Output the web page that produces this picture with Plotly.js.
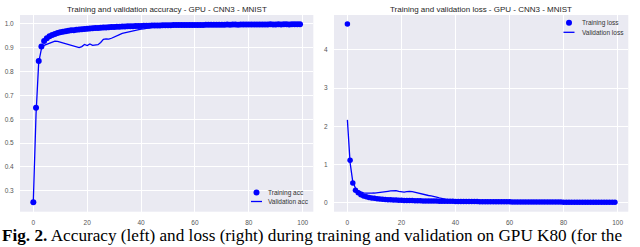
<!DOCTYPE html>
<html>
<head>
<meta charset="utf-8">
<script src="https://cdn.plot.ly/plotly-3.0.1.min.js"></script>
<style>html,body{margin:0;padding:0;background:#fff;}#chart{width:640px;height:247px;}</style>
</head>
<body>
<div id="chart"></div>
<script>
const epochs = [];
for (let i = 0; i < 100; i++) epochs.push(i);

const trainAcc = [
0.252,0.648,0.845,0.905,0.928,0.940,0.948,0.954,0.958,0.962,
0.965,0.967,0.969,0.971,0.973,0.974,0.976,0.977,0.978,0.979,
0.980,0.981,0.982,0.983,0.983,0.984,0.985,0.985,0.986,0.987,
0.987,0.988,0.988,0.989,0.989,0.990,0.990,0.990,0.991,0.991,
0.991,0.992,0.992,0.992,0.993,0.993,0.993,0.993,0.994,0.994,
0.994,0.994,0.995,0.995,0.995,0.995,0.995,0.996,0.996,0.996,
0.996,0.996,0.996,0.996,0.997,0.997,0.997,0.997,0.997,0.997,
0.997,0.997,0.998,0.997,0.998,0.998,0.997,0.998,0.998,0.998,
0.998,0.998,0.998,0.998,0.998,0.998,0.998,0.998,0.999,0.998,
0.998,0.999,0.998,0.999,0.999,0.998,0.999,0.999,0.999,0.999];

const valAcc = [
0.260,0.620,0.840,0.895,0.910,0.915,0.920,0.925,0.928,0.927,
0.924,0.920,0.917,0.913,0.910,0.906,0.903,0.901,0.905,0.914,
0.909,0.916,0.910,0.912,0.913,0.922,0.935,0.937,0.936,0.940,
0.944,0.948,0.955,0.960,0.963,0.966,0.969,0.972,0.975,0.976,
0.978,0.979,0.981,0.982,0.986,0.992,0.994,0.995,0.994,0.995,
0.996,0.995,0.996,0.996,0.997,0.996,0.997,0.996,0.997,0.997,
0.996,0.997,0.997,0.998,0.997,0.997,0.998,0.997,0.998,0.997,
0.998,0.998,0.997,0.998,0.998,0.998,0.997,0.998,0.998,0.998,
0.998,0.997,0.998,0.998,0.998,0.998,0.998,0.997,0.998,0.998,
0.998,0.998,0.998,0.998,0.997,0.998,0.998,0.998,0.998,0.998];

const trainLoss = [
4.680,1.110,0.520,0.330,0.260,0.210,0.180,0.155,0.140,0.125,
0.115,0.105,0.098,0.092,0.086,0.081,0.077,0.073,0.070,0.067,
0.064,0.062,0.060,0.058,0.056,0.054,0.052,0.050,0.049,0.047,
0.046,0.045,0.044,0.043,0.042,0.041,0.040,0.039,0.038,0.037,
0.036,0.035,0.034,0.033,0.033,0.032,0.031,0.031,0.030,0.029,
0.029,0.028,0.028,0.027,0.027,0.026,0.026,0.025,0.025,0.024,
0.024,0.023,0.023,0.022,0.022,0.022,0.021,0.021,0.020,0.020,
0.020,0.019,0.019,0.019,0.018,0.018,0.018,0.017,0.017,0.017,
0.016,0.016,0.016,0.016,0.015,0.015,0.015,0.015,0.014,0.014,
0.014,0.014,0.013,0.013,0.013,0.013,0.012,0.012,0.012,0.012];

const valLoss = [
2.170,1.050,0.550,0.380,0.310,0.280,0.260,0.250,0.245,0.250,
0.255,0.260,0.270,0.280,0.290,0.300,0.310,0.315,0.320,0.300,
0.290,0.280,0.290,0.300,0.290,0.270,0.250,0.240,0.220,0.200,
0.190,0.180,0.170,0.150,0.130,0.110,0.095,0.085,0.075,0.065,
0.058,0.055,0.052,0.050,0.048,0.046,0.045,0.044,0.043,0.042,
0.041,0.040,0.039,0.038,0.037,0.036,0.036,0.035,0.034,0.034,
0.033,0.033,0.032,0.032,0.031,0.031,0.030,0.030,0.030,0.029,
0.029,0.029,0.028,0.028,0.028,0.027,0.027,0.027,0.026,0.026,
0.026,0.026,0.025,0.025,0.025,0.025,0.024,0.024,0.024,0.024,
0.023,0.023,0.023,0.023,0.023,0.022,0.022,0.022,0.022,0.022];

const xTicks = [0, 20, 40, 60, 80, 100];
const accTicks = [0.3, 0.4, 0.5, 0.6, 0.7, 0.8, 0.9, 1.0];
const accTickText = ['0.3','0.4','0.5','0.6','0.7','0.8','0.9','1.0'];
const lossTicks = [0, 1, 2, 3, 4];

const seriesNames = ['Training acc', 'Validation acc', 'Training loss', 'Validation loss'];
const titleLeft = 'Training and validation accuracy - GPU - CNN3 - MNIST';
const titleRight = 'Training and validation loss - GPU - CNN3 - MNIST';
const caption = '<b>Fig. 2.</b> Accuracy (left) and loss (right) during training and validation on GPU K80 (for the';

const BLUE = '#0000ff';
const FONT = 'Liberation Sans, Arial, sans-serif';
const W = 640, H = 247;
const px = v => v / W;
const py = v => 1 - v / H;

const traces = [
  {x: epochs, y: trainAcc, type: 'scatter', mode: 'markers', name: seriesNames[0],
   marker: {color: BLUE, size: 6}, xaxis: 'x', yaxis: 'y'},
  {x: epochs, y: valAcc, type: 'scatter', mode: 'lines', name: seriesNames[1],
   line: {color: BLUE, width: 1.3}, xaxis: 'x', yaxis: 'y'},
  {x: epochs, y: trainLoss, type: 'scatter', mode: 'markers', name: seriesNames[2],
   marker: {color: BLUE, size: 5.5}, xaxis: 'x2', yaxis: 'y2'},
  {x: epochs, y: valLoss, type: 'scatter', mode: 'lines', name: seriesNames[3],
   line: {color: BLUE, width: 1.3}, xaxis: 'x2', yaxis: 'y2'}
];

const axisCommon = {
  showline: false, zeroline: false, gridcolor: '#ffffff', gridwidth: 1,
  ticks: 'outside', ticklen: 4, tickcolor: 'rgba(0,0,0,0)',
  tickfont: {family: FONT, size: 6.5, color: '#555555'}
};

// hand-built legends (matplotlib style: small glyphs, tight rows)
function legendBlock(glyphX, textX, row1Y, row2Y, names) {
  const shapes = [
    {type: 'circle', xref: 'paper', yref: 'paper', xsizemode: 'pixel', ysizemode: 'pixel',
     xanchor: px(glyphX), yanchor: py(row1Y), x0: -3, x1: 3, y0: -3, y1: 3,
     fillcolor: BLUE, line: {width: 0}},
    {type: 'line', xref: 'paper', yref: 'paper',
     x0: px(glyphX - 5.5), x1: px(glyphX + 5.5), y0: py(row2Y), y1: py(row2Y),
     line: {color: BLUE, width: 1.3}}
  ];
  const anns = names.map((n, i) => ({
    text: n, xref: 'paper', yref: 'paper', x: px(textX), y: py(i === 0 ? row1Y : row2Y),
    xanchor: 'left', yanchor: 'middle', showarrow: false,
    font: {family: FONT, size: 6.5, color: '#333333'}
  }));
  return {shapes, anns};
}
const legL = legendBlock(256.5, 266, 192.5, 201.5, seriesNames.slice(0, 2));
const legR = legendBlock(569, 579.5, 22.7, 32.3, seriesNames.slice(2, 4));

const layout = {
  width: W, height: H,
  margin: {l: 0, r: 0, t: 0, b: 0},
  paper_bgcolor: '#ffffff', plot_bgcolor: '#EAEAF2',
  showlegend: false,
  xaxis: Object.assign({}, axisCommon, {domain: [0.03125, 0.4896], range: [-4.95, 103.95], tickvals: xTicks, anchor: 'y'}),
  yaxis: Object.assign({}, axisCommon, {domain: [0.1429, 0.9393], range: [0.2125, 1.0375], tickvals: accTicks, ticktext: accTickText, anchor: 'x'}),
  xaxis2: Object.assign({}, axisCommon, {domain: [0.5219, 0.9817], range: [-4.95, 103.95], tickvals: xTicks, anchor: 'y2'}),
  yaxis2: Object.assign({}, axisCommon, {domain: [0.1429, 0.9393], range: [-0.234, 4.914], tickvals: lossTicks, anchor: 'x2'}),
  shapes: legL.shapes.concat(legR.shapes),
  annotations: [
    {text: titleLeft, xref: 'paper', yref: 'paper', x: px(167), y: py(9),
     xanchor: 'center', yanchor: 'middle', showarrow: false,
     font: {family: FONT, size: 8, color: '#262626'}},
    {text: titleRight, xref: 'paper', yref: 'paper', x: px(481), y: py(9),
     xanchor: 'center', yanchor: 'middle', showarrow: false,
     font: {family: FONT, size: 8, color: '#262626'}},
    {text: caption, xref: 'paper', yref: 'paper', x: 0, y: 0,
     xanchor: 'left', yanchor: 'bottom', showarrow: false,
     font: {family: 'Liberation Serif, Times New Roman, serif', size: 17.2, color: '#000000'}}
  ].concat(legL.anns, legR.anns)
};

Plotly.newPlot('chart', traces, layout, {staticPlot: true, displayModeBar: false});
</script>
</body>
</html>
